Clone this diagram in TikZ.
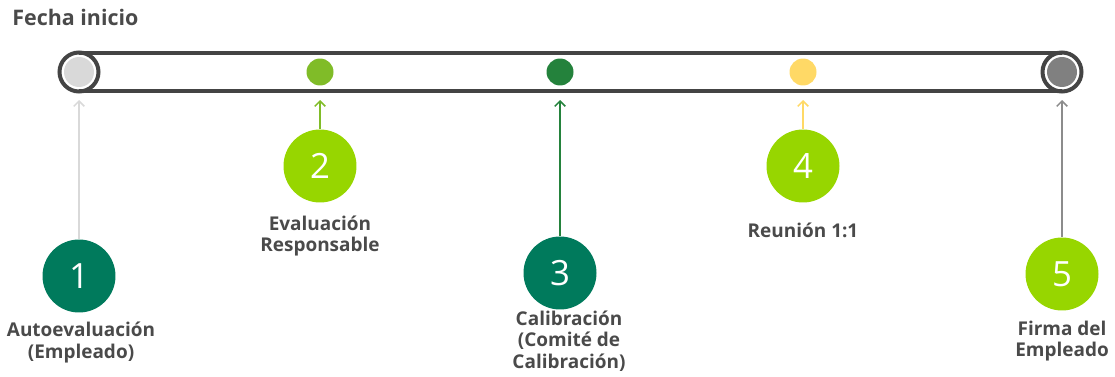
\documentclass[tikz,border=0pt]{standalone}
\usepackage{fontspec}
\setmainfont{Open Sans}
\usetikzlibrary{positioning,arrows.meta}

\definecolor{barcol}{RGB}{68,68,68}
\definecolor{txtcol}{RGB}{74,74,74}
\definecolor{tealc}{RGB}{0,122,92}
\definecolor{limec}{RGB}{151,214,0}
\definecolor{dotgreen}{RGB}{128,188,40}
\definecolor{dotdark}{RGB}{36,130,60}
\definecolor{dotyellow}{RGB}{255,217,102}
\definecolor{ltgray}{RGB}{217,217,217}
\definecolor{midgray}{RGB}{128,128,128}
\definecolor{arrgray}{RGB}{140,140,140}

\begin{document}
\begin{tikzpicture}[x=0.02cm,y=0.02cm,
     stepcirc/.style = {circle, minimum size=1.46cm, inner sep=0pt, text=white,
      font=\fontsize{19.8}{20}\selectfont},
     tdot/.style = {circle, minimum size=0.54cm, inner sep=0pt},
     enddot/.style = {circle, minimum size=0.6cm, inner sep=0pt},
     ring/.style = {draw=barcol, circle, line width=0.08cm, minimum size=0.78cm,
      inner sep=0pt, outer sep=0pt},
     lbl/.style = {align=center, text=txtcol, inner sep=0pt, anchor=base,
      font=\fontsize{10.8}{12.2}\selectfont\bfseries},
     arrow/.style = {-{Straight Barb[length=3pt,width=6pt]}, line width=0.85pt},
     bar/.style = {draw=barcol, line width=0.08cm}
    ]
    \useasboundingbox (0,0) rectangle (1115,376);

    \node [anchor=base west, inner sep=0pt, text=txtcol,
      font=\fontsize{12.2}{14}\selectfont\bfseries] (title) at (12,350) {Fecha inicio};

    % timeline bar
    \node [ring] (e1) at (79,304) {};
    \node [ring] (e5) at (1062,304) {};
    \draw[bar] (e1.north) -- (e5.north);
    \draw[bar] (e1.south) -- (e5.south);
    \node [enddot, fill=ltgray] (d1) at (e1) {};
    \node [tdot, fill=dotgreen] (d2) at (320,304) {};
    \node [tdot, fill=dotdark] (d3) at (560,304) {};
    \node [tdot, fill=dotyellow] (d4) at (803,304) {};
    \node [enddot, fill=midgray] (d5) at (e5) {};
    \coordinate (tip) at (0,276);

    % steps
    \node [stepcirc, fill=tealc] (c1) at (79,100) {1};
    \node [stepcirc, fill=limec] (c2) at (320,210) {2};
    \node [stepcirc, fill=tealc] (c3) at (560,103) {3};
    \node [stepcirc, fill=limec] (c4) at (803,210) {4};
    \node [stepcirc, fill=limec] (c5) at (1062,102) {5};

    % labels (base = last line)
    \node [lbl] (l1) at (81,18) {Autoevaluación\\(Empleado)};
    \node [lbl] (l2) at (320,124.3) {Evaluación\\Responsable};
    \node [lbl] (l3) at (569,8) {Calibración\\(Comité de\\Calibración)};
    \node [lbl] (l4) at (803,138.7) {Reunión 1:1};
    \node [lbl] (l5) at (1062,19.5) {Firma del\\Empleado};

    \draw[arrow, draw=ltgray] (c1.north) -- (c1.north |- tip);
    \draw[arrow, draw=dotgreen] (c2.north) -- (c2.north |- tip);
    \draw[arrow, draw=dotdark] (c3.north) -- (c3.north |- tip);
    \draw[arrow, draw=dotyellow] (c4.north) -- (c4.north |- tip);
    \draw[arrow, draw=arrgray] (c5.north) -- (c5.north |- tip);
\end{tikzpicture}
\end{document}
